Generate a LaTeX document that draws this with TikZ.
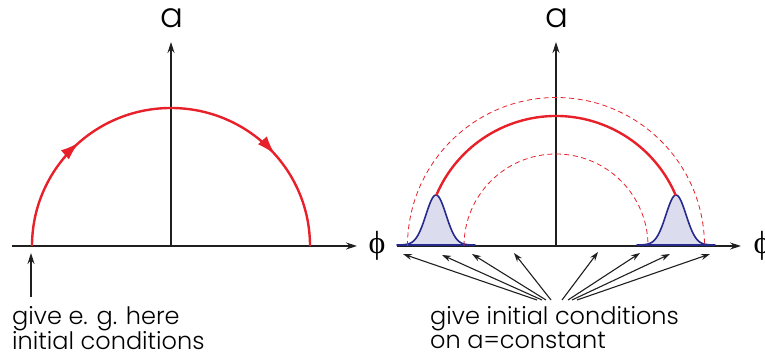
\documentclass[tikz,border=0pt]{standalone}
\usepackage{fontspec}
\setmainfont{Poppins}[UprightFont=* Light]
\newfontfamily\phifont{Liberation Serif}
\usetikzlibrary{arrows.meta,decorations.markings,calc}

\definecolor{orbitred}{HTML}{E8202A}
\definecolor{bumpblue}{HTML}{262A8C}
\definecolor{bumpfill}{HTML}{DCDCEF}

\begin{document}
\begin{tikzpicture}[
    x=1pt, y=1pt,
    >={Stealth[length=11pt,width=7pt]},
    axis/.style={->, line width=1.1pt, black!88},
    ray/.style={-{Stealth[length=9pt,width=6pt]}, line width=1.1pt, black!88},
    orbit/.style={line width=2.4pt, orbitred},
    flow/.style={orbit, postaction={decorate}, decoration={markings,
        mark=at position 0.27 with {\arrow{Latex[length=19pt,width=12pt]}},
        mark=at position 0.77 with {\arrow{Latex[length=19pt,width=12pt]}}}},
    shell/.style={line width=0.8pt, orbitred, dash pattern=on 5pt off 3.5pt},
    bump/.style={draw=bumpblue, fill=bumpfill, line width=1.6pt, line join=round},
    label/.style={font=\fontsize{34}{34}\selectfont, inner sep=0pt},
    philabel/.style={font=\phifont\fontsize{32}{32}\selectfont, inner sep=0pt},
    note/.style={font=\fontsize{24}{22}\selectfont, align=left, inner sep=0pt, anchor=north west}
]
\useasboundingbox (0,0) rectangle (765,358);

% left panel: one orbit, started at one point
\coordinate (o1) at (171,112);
\coordinate (xs1) at (12,112);
\coordinate (xe1) at (357,112);
\coordinate (ye1) at (171,316);
\node[label] (a1) at (172,340) {a};
\node[philabel] (phi1) at (377,112) {ϕ};

\draw[axis] (xs1) -- (xe1);
\draw[axis] (o1) -- (ye1);
\draw[flow] (32,112) arc[start angle=180, end angle=0, x radius=139, y radius=138];

\node[note] (cond1) at (12,52) {give e. g. here\\initial conditions};
\coordinate (start1) at (31,61);
\coordinate (hit1) at (31,105);
\draw[axis] (start1) -- (hit1);

% right panel: a whole band of orbits
\coordinate (o2) at (556,112);
\coordinate (xs2) at (397,112);
\coordinate (xe2) at (741,112);
\coordinate (ye2) at (556,316);
\node[label] (a2) at (557,340) {a};
\node[philabel] (phi2) at (762,112) {ϕ};

\draw[axis] (xs2) -- (xe2);
\draw[axis] (o2) -- (ye2);

\foreach \cx in {436,676} {
  \begin{scope}[shift={(\cx,112)}]
    \draw[bump] (-39,1) -- plot[domain=-39:39, samples=70, smooth] (\x,{1+50*exp(-(\x)^2/200)}) -- cycle;
  \end{scope}
}

\draw[shell] (407.5,112) arc[start angle=180, end angle=0, radius=148.5];
\draw[shell] (464,112) arc[start angle=180, end angle=0, radius=92];
\draw[orbit] ($(o2)+(157:130)$) arc[start angle=157, end angle=23, radius=130];

\node[note] (cond2) at (430,52) {give initial conditions\\on a=constant};
\foreach \i/\sx/\tx/\ty in {1/537/403/104, 2/542/442/103, 3/546/472/104, 4/551/514/105,
                            5/562/598/106, 6/568/640/105, 7/572/670/104, 8/577/710/104} {
  \coordinate (s\i) at (\sx,58);
  \coordinate (t\i) at (\tx,\ty);
  \draw[ray] (s\i) -- (t\i);
}
\end{tikzpicture}
\end{document}
